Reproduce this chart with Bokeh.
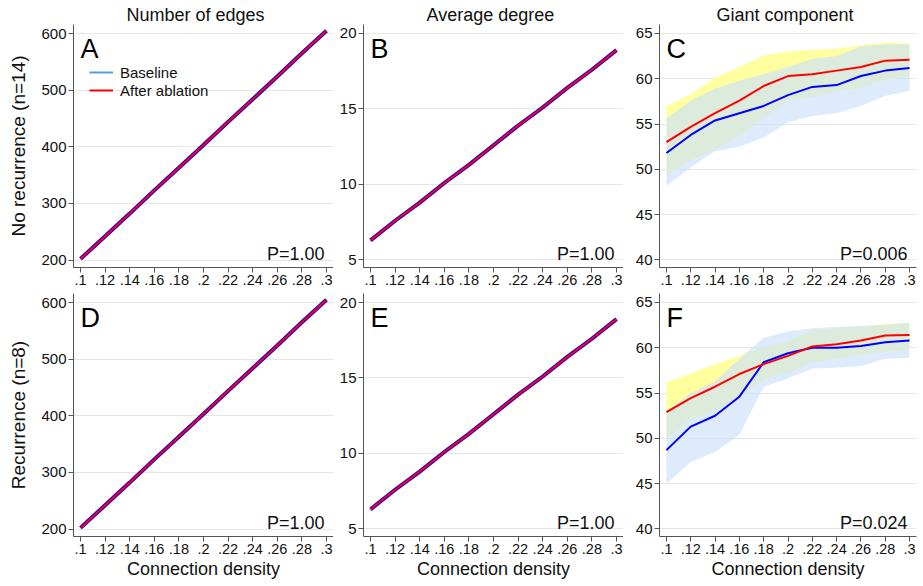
from bokeh.plotting import figure
from bokeh.models import Label, Legend, LegendItem, FixedTicker, Range1d
from bokeh.layouts import column, row
from bokeh.embed import file_html
from bokeh.resources import INLINE

FONT = "Liberation Sans"

# ---------------- data ----------------
density = [0.10, 0.12, 0.14, 0.16, 0.18, 0.20, 0.22, 0.24, 0.26, 0.28, 0.30]
density_labels = [".1", ".12", ".14", ".16", ".18", ".2", ".22", ".24", ".26", ".28", ".3"]

col_titles = ["Number of edges", "Average degree", "Giant component"]
row_titles = ["No recurrence (n=14)", "Recurrence (n=8)"]
panel_letters = [["A", "B", "C"], ["D", "E", "F"]]
p_values = [["P=1.00", "P=1.00", "P=0.006"], ["P=1.00", "P=1.00", "P=0.024"]]

edges_ticks = [200, 300, 400, 500, 600]
degree_ticks = [5, 10, 15, 20]
giant_ticks = [40, 45, 50, 55, 60, 65]

# No recurrence
edges_base_nr = [202, 242, 282, 323, 363, 403, 444, 484, 524, 565, 605]
edges_abl_nr = [202, 242, 282, 323, 363, 403, 444, 484, 524, 565, 605]
degree_base_nr = [6.3, 7.6, 8.8, 10.1, 11.3, 12.6, 13.9, 15.1, 16.4, 17.6, 18.9]
degree_abl_nr = [6.3, 7.6, 8.8, 10.1, 11.3, 12.6, 13.9, 15.1, 16.4, 17.6, 18.9]
giant_base_nr = [51.8, 53.8, 55.4, 56.2, 57.0, 58.2, 59.1, 59.3, 60.3, 60.9, 61.2]
giant_base_nr_lo = [48.2, 50.2, 52.0, 52.5, 53.5, 55.2, 55.9, 56.2, 57.0, 58.1, 58.7]
giant_base_nr_hi = [55.6, 57.6, 58.9, 59.8, 60.5, 61.3, 62.2, 62.5, 63.6, 63.8, 63.8]
giant_abl_nr = [53.0, 54.7, 56.2, 57.6, 59.2, 60.3, 60.5, 60.9, 61.3, 62.0, 62.1]
giant_abl_nr_lo = [49.3, 51.0, 52.2, 53.7, 55.7, 57.6, 58.0, 58.6, 59.0, 59.9, 60.3]
giant_abl_nr_hi = [57.0, 58.3, 60.1, 61.3, 62.6, 63.0, 63.2, 63.3, 63.7, 64.0, 63.9]

# Recurrence
edges_base_r = [202, 242, 282, 323, 363, 403, 444, 484, 524, 565, 605]
edges_abl_r = [202, 242, 282, 323, 363, 403, 444, 484, 524, 565, 605]
degree_base_r = [6.3, 7.6, 8.8, 10.1, 11.3, 12.6, 13.9, 15.1, 16.4, 17.6, 18.9]
degree_abl_r = [6.3, 7.6, 8.8, 10.1, 11.3, 12.6, 13.9, 15.1, 16.4, 17.6, 18.9]
giant_base_r = [48.7, 51.3, 52.5, 54.6, 58.4, 59.4, 60.0, 60.0, 60.2, 60.6, 60.8]
giant_base_r_lo = [45.0, 47.4, 48.5, 50.4, 55.7, 56.6, 57.7, 57.8, 58.0, 58.8, 58.9]
giant_base_r_hi = [53.0, 55.0, 56.3, 58.8, 61.1, 61.8, 62.15, 62.3, 62.4, 62.55, 62.75]
giant_abl_r = [52.9, 54.45, 55.7, 57.1, 58.2, 59.1, 60.15, 60.4, 60.8, 61.35, 61.4]
giant_abl_r_lo = [49.9, 52.1, 53.0, 54.6, 56.5, 57.2, 58.4, 58.8, 59.2, 59.6, 59.8]
giant_abl_r_hi = [56.2, 57.2, 58.2, 59.1, 60.1, 60.7, 62.0, 62.15, 62.35, 62.65, 62.7]

# ---------------- styling helpers ----------------
FRAME_H = 243
X_RANGE = (0.0943, 0.3057)
Y_RANGES = {"edges": (186.8, 615.9), "degree": (4.503, 20.596), "giant": (39.17, 65.99)}
TICKS = {"edges": edges_ticks, "degree": degree_ticks, "giant": giant_ticks}
BLUE = "#0000ff"
RED = "#ff0000"
YELLOW_BAND = "#ffffa0"
BLUE_BAND = "#cce1fb"


def make_fig(kind, r, c):
    frame_w = [260, 260, 257][c]
    left = [73, 30, 36][c]
    right = [0, 0, 7][c]
    top = 24 if r == 0 else 0
    bottom = 26 if r == 0 else 50
    p = figure(frame_width=frame_w, frame_height=FRAME_H,
               x_range=Range1d(*X_RANGE), y_range=Range1d(*Y_RANGES[kind]),
               output_backend="svg", toolbar_location=None,
               min_border_left=left, min_border_right=right,
               min_border_top=top, min_border_bottom=bottom)
    p.outline_line_color = None
    p.background_fill_color = "white"
    p.border_fill_color = "white"
    p.xgrid.visible = False
    p.ygrid.grid_line_color = "#e6e6e6"
    p.ygrid.grid_line_width = 1
    p.xaxis.ticker = FixedTicker(ticks=density)
    p.xaxis.major_label_overrides = dict(zip(density, density_labels))
    p.yaxis.ticker = FixedTicker(ticks=TICKS[kind])
    for ax in [p.xaxis[0], p.yaxis[0]]:
        ax.minor_tick_line_color = None
        ax.major_tick_out = 5
        ax.major_tick_in = 0
        ax.axis_line_color = "#555555"
        ax.major_tick_line_color = "#555555"
        ax.major_label_text_font = FONT
        ax.major_label_text_font_size = "15px"
        ax.major_label_text_color = "#111111"
        ax.major_label_standoff = 2
        ax.axis_label_text_font = FONT
        ax.axis_label_text_font_style = "normal"
        ax.axis_label_text_color = "#111111"
    p.xaxis.major_label_text_font_size = "14.5px"
    if c == 0:
        p.yaxis.axis_label = row_titles[r]
        p.yaxis.axis_label_text_font_size = "19px"
        p.yaxis.axis_label_standoff = 9
    if r == 1:
        p.xaxis.axis_label = "Connection density"
        p.xaxis.axis_label_text_font_size = "18px"
        p.xaxis.axis_label_standoff = 2
    if r == 0:
        p.title.text = col_titles[c]
        p.title.text_font = FONT
        p.title.text_font_size = "18px"
        p.title.text_font_style = "normal"
        p.title.text_color = "#111111"
        p.title.align = "left"
        p.title.offset = [53, 63, 57][c]
        p.title.standoff = 0
    p.add_layout(Label(x=7, y=FRAME_H - 24, x_units="screen", y_units="screen",
                       text=panel_letters[r][c], text_font=FONT, text_font_size="27px",
                       text_align="left", text_baseline="alphabetic", text_color="#000000"))
    p.add_layout(Label(x=frame_w - 9, y=14, x_units="screen", y_units="screen",
                       text=p_values[r][c], text_font=FONT, text_font_size="18px",
                       text_align="right", text_baseline="alphabetic", text_color="#111111"))
    return p


def straight(p, base, abl):
    p.line(density, base, line_color=BLUE, line_width=4)
    p.line(density, abl, line_color=RED, line_width=2)


def giant(p, base, base_lo, base_hi, abl, abl_lo, abl_hi):
    p.varea(x=density, y1=abl_lo, y2=abl_hi, fill_color=YELLOW_BAND, fill_alpha=1.0)
    p.varea(x=density, y1=base_lo, y2=base_hi, fill_color=BLUE_BAND, fill_alpha=0.67)
    p.line(density, base, line_color=BLUE, line_width=2)
    p.line(density, abl, line_color=RED, line_width=2)


pA = make_fig("edges", 0, 0)
straight(pA, edges_base_nr, edges_abl_nr)
# legend-only renderers, placed outside the visible x range
dummy_b = pA.line([-1.0, -0.9], [400, 400], line_color="#5b9bd5", line_width=2)
dummy_r = pA.line([-1.0, -0.9], [400, 400], line_color=RED, line_width=2)
legend = Legend(items=[LegendItem(label="Baseline", renderers=[dummy_b]),
                       LegendItem(label="After ablation", renderers=[dummy_r])],
                location=(16, 168), glyph_width=24, glyph_height=18, label_height=18,
                label_standoff=7, padding=0, spacing=0, margin=0,
                border_line_color=None, background_fill_alpha=0,
                label_text_font=FONT, label_text_font_size="15px", label_text_color="#111111")
pA.add_layout(legend)

pB = make_fig("degree", 0, 1)
straight(pB, degree_base_nr, degree_abl_nr)

pC = make_fig("giant", 0, 2)
giant(pC, giant_base_nr, giant_base_nr_lo, giant_base_nr_hi,
      giant_abl_nr, giant_abl_nr_lo, giant_abl_nr_hi)

pD = make_fig("edges", 1, 0)
straight(pD, edges_base_r, edges_abl_r)

pE = make_fig("degree", 1, 1)
straight(pE, degree_base_r, degree_abl_r)

pF = make_fig("giant", 1, 2)
giant(pF, giant_base_r, giant_base_r_lo, giant_base_r_hi,
      giant_abl_r, giant_abl_r_lo, giant_abl_r_hi)

layout = column(row(pA, pB, pC, spacing=0), row(pD, pE, pF, spacing=0), spacing=0)

open("out.html", "w").write(file_html(layout, INLINE))
